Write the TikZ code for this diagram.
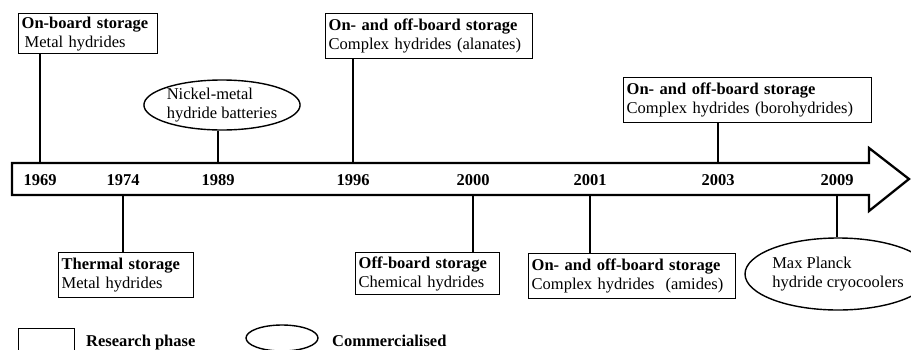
\documentclass[tikz,border=0pt]{standalone}
\usepackage{fontspec}
\setmainfont{Liberation Serif}
\usepackage{tikz}
\usetikzlibrary{shapes.geometric}

\begin{document}
\begin{tikzpicture}[
      x=1pt, y=-1pt,
      every node/.style={font=\fontsize{16.5}{19}\selectfont},
      box/.style={draw, line width=1.4pt, inner sep=3pt, align=left, anchor=north west},
      oval/.style={draw, ellipse, line width=1.4pt, inner sep=0pt, align=left},
      year/.style={font=\fontsize{16.5}{19}\selectfont\bfseries},
      key/.style={anchor=base west, inner sep=0pt, font=\fontsize{16.5}{19}\selectfont\bfseries},
      link/.style={line width=1.6pt}]
    \useasboundingbox (0,0) rectangle (911,349);
    \draw[line width=2.3pt, line join=miter] (12,163) -- (869,163) -- (869,148) -- (909,179)
      -- (869,211) -- (869,195) -- (12,195) -- cycle;
    \coordinate (top) at (0,163);
    \coordinate (bot) at (0,195);
    \foreach \yr/\x in {1969/40,1974/123,1989/218,1996/353,2000/473,2001/590,2003/718,2009/837}
      \node[year] (y\yr) at (\x,180) {\yr};
    \node[box, text width=133pt, minimum height=39pt] (b1969) at (18,13)
      {\textbf{On-board storage}\\\hspace{3pt}Metal hydrides};
    \node[oval, minimum width=139pt, minimum height=50pt] (e1989) at (222,105)
      {Nickel-metal\\hydride batteries};
    \node[box, text width=201pt, minimum height=45pt] (b1996) at (325,13)
      {\textbf{On- and off-board storage}\\Complex hydrides (alanates)};
    \node[box, text width=242pt, minimum height=45pt] (b2003) at (623,77)
      {\textbf{On- and off-board storage}\\Complex hydrides (borohydrides)};
    \node[box, text width=129pt, minimum height=45pt] (b1974) at (58,252)
      {\textbf{Thermal storage}\\Metal hydrides};
    \node[box, text width=138pt, minimum height=42pt] (b2000) at (355,252)
      {\textbf{Off-board storage}\\Chemical hydrides};
    \node[box, text width=201pt, minimum height=45pt] (b2001) at (528,253)
      {\textbf{On- and off-board storage}\\Complex hydrides \ (amides)};
    \node[oval, minimum width=150pt, minimum height=72pt] (e2009) at (838,274)
      {Max Planck\\hydride cryocoolers};
    \draw[link] (y1969 |- b1969.south) -- (y1969 |- top);
    \draw[link] (y1989 |- e1989.south) -- (y1989 |- top);
    \draw[link] (y1996 |- b1996.south) -- (y1996 |- top);
    \draw[link] (y2003 |- b2003.south) -- (y2003 |- top);
    \draw[link] (y1974 |- bot) -- (y1974 |- b1974.north);
    \draw[link] (y2000 |- bot) -- (y2000 |- b2000.north);
    \draw[link] (y2001 |- bot) -- (y2001 |- b2001.north);
    \draw[link] (y2009 |- bot) -- (y2009 |- e2009.north);
    \node[draw, line width=1.4pt, minimum width=56pt, minimum height=26pt, anchor=north west] (kbox) at (18,328) {};
    \node[key] (kresearch) at (86,346) {Research phase};
    \node[oval, minimum width=72pt, minimum height=26pt] (koval) at (282,338) {};
    \node[key] (kcomm) at (332,346) {Commercialised};
  \end{tikzpicture}
\end{document}
